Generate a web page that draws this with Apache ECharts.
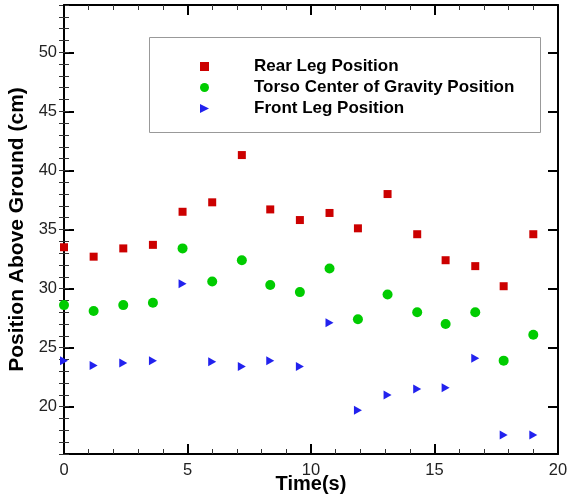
<!DOCTYPE html>
<html><head><meta charset="utf-8">
<script src="https://cdn.jsdelivr.net/npm/echarts@6/dist/echarts.min.js"></script>
<style>html,body{margin:0;padding:0;background:#fff}#c{width:567px;height:501px}</style>
</head><body><div id="c"></div>
<script>
const times = [0, 1.2, 2.4, 3.6, 4.8, 6.0, 7.2, 8.35, 9.55, 10.75, 11.9, 13.1, 14.3, 15.45, 16.65, 17.8, 19.0];
const rearLeg = [33.5, 32.7, 33.4, 33.7, 36.5, 37.3, 41.3, 36.7, 35.8, 36.4, 35.1, 38.0, 34.6, 32.4, 31.9, 30.2, 34.6];
const torsoCG = [28.6, 28.1, 28.6, 28.8, 33.4, 30.6, 32.4, 30.3, 29.7, 31.7, 27.4, 29.5, 28.0, 27.0, 28.0, 23.9, 26.1];
const frontLeg = [23.9, 23.5, 23.7, 23.9, 30.4, 23.8, 23.4, 23.9, 23.4, 27.1, 19.7, 21.0, 21.5, 21.6, 24.1, 17.6, 17.6];
const seriesNames = ['Rear Leg Position', 'Torso Center of Gravity Position', 'Front Leg Position'];
const yMajorTicks = [20, 25, 30, 35, 40, 45, 50];
const xName = 'Time(s)';
const yName = 'Position Above Ground (cm)';

const font = '"Liberation Sans", Arial, sans-serif';
const pair = (xs, ys) => xs.map((x, i) => [x, ys[i]]);
const black = '#000';

function xAx(pos, labels) {
  return {
    type: 'value', position: pos, min: 0, max: 20, interval: 5,
    axisLine: { show: true, lineStyle: { color: black, width: 2 } },
    axisTick: { show: true, inside: true, length: 10, lineStyle: { color: black, width: 2 } },
    minorTick: { show: true, splitNumber: 5, length: 5, lineStyle: { color: '#333', width: 1 } },
    splitLine: { show: false },
    axisLabel: { show: labels, fontSize: 16.5, color: '#222', margin: 8, fontFamily: font },
    name: labels ? xName : '', nameLocation: 'middle', nameGap: 20, nameMoveOverlap: false,
    nameTextStyle: { fontSize: 20, fontWeight: 'bold', color: black, fontFamily: font }
  };
}
function yMajor(pos, labels) {
  return {
    type: 'value', position: pos, min: 16, max: 54,
    axisLine: { show: true, onZero: false, lineStyle: { color: black, width: 2 } },
    axisTick: { show: true, inside: true, length: 10, customValues: yMajorTicks, lineStyle: { color: black, width: 2 } },
    splitLine: { show: false },
    axisLabel: { show: labels, customValues: yMajorTicks, fontSize: 16.5, color: '#222', margin: 7, fontFamily: font },
    name: labels ? yName : '', nameLocation: 'middle', nameGap: 36,
    nameTextStyle: { fontSize: 21, fontWeight: 'bold', color: black, fontFamily: font }
  };
}
function yMinor(pos) {
  return {
    type: 'value', position: pos, min: 16, max: 54, interval: 1,
    axisLine: { show: false },
    axisTick: { show: true, inside: true, length: 5, lineStyle: { color: '#333', width: 1 } },
    splitLine: { show: false },
    axisLabel: { show: false }
  };
}

const chart = echarts.init(document.getElementById('c'), null, { renderer: 'canvas' });
chart.setOption({
  animation: false,
  backgroundColor: '#fff',
  grid: { left: 64, right: 9, top: 5, bottom: 47, containLabel: false, outerBoundsMode: 'none' },
  xAxis: [xAx('bottom', true), xAx('top', false)],
  yAxis: [yMajor('left', true), yMinor('left'), yMajor('right', false), yMinor('right')],
  legend: {
    orient: 'vertical', left: 195, top: 53, itemWidth: 9, itemHeight: 9, itemGap: 4,
    data: seriesNames,
    textStyle: { fontSize: 17, fontWeight: 'bold', color: black, fontFamily: font, padding: [0, 0, 0, 40], lineHeight: 17 }
  },
  graphic: [{
    type: 'rect', left: 147, top: 35, shape: { width: 391, height: 95 },
    style: { fill: 'none', stroke: '#999', lineWidth: 1 }, z: 10
  }],
  series: [
    { name: seriesNames[0], type: 'scatter', xAxisIndex: 0, yAxisIndex: 0, symbol: 'rect', symbolSize: 8,
      itemStyle: { color: '#cc0000', opacity: 1 }, data: pair(times, rearLeg) },
    { name: seriesNames[1], type: 'scatter', xAxisIndex: 0, yAxisIndex: 0, symbol: 'circle', symbolSize: 10,
      itemStyle: { color: '#00cc00', opacity: 1 }, data: pair(times, torsoCG) },
    { name: seriesNames[2], type: 'scatter', xAxisIndex: 0, yAxisIndex: 0, symbol: 'path://M0,0L10,5L0,10Z', symbolSize: [8, 9],
      itemStyle: { color: '#2222ee', opacity: 1 }, data: pair(times, frontLeg) }
  ]
});
</script></body></html>
